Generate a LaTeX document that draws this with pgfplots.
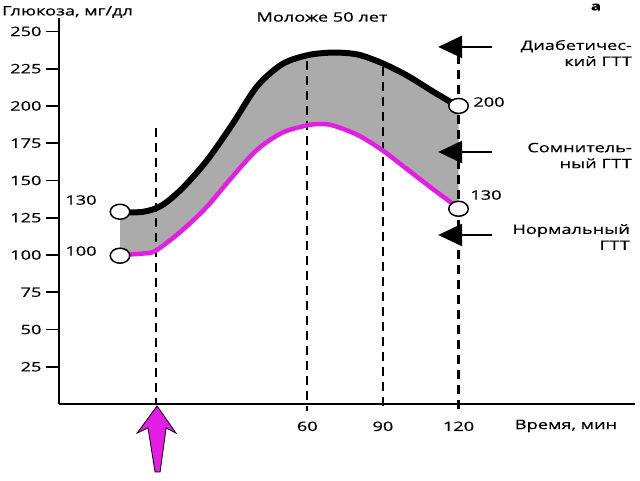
\documentclass[border=0pt]{standalone}
\usepackage{fontspec}
\setmainfont{Open Sans}[FakeStretch=1.4,FakeBold=0.6]
\usepackage{pgfplots}
\usepackage{pgfplotstable}
\pgfplotsset{compat=1.18}
\usepgfplotslibrary{fillbetween}
\usetikzlibrary{arrows.meta}
\definecolor{mag}{RGB}{225,30,225}
\pgfplotstableread{
t v
-14.3 128.5
-5 129
2 133
10 144
20 163
30 187
40 213
50 228
60 234
70 235.8
80 234.5
90 228.5
100 220
110 209.5
120 199.5
}\diab
\pgfplotstableread{
t v
-14.3 100
-5 101
0 103
10 116
20 132
30 152
40 170.5
50 182
60 187
65 187.8
70 187
80 180.5
90 170
100 157
110 144
120 131.5
}\norm
\begin{document}
\fontsize{13}{16}\selectfont
\begin{tikzpicture}[font=\fontsize{13}{16}\selectfont]
\begin{axis}[
  at={(59pt,76pt)}, anchor=south west, scale only axis,
  width=576pt, height=386pt,
  xmin=-38.5, xmax=190, ymin=0, ymax=259,
  axis x line*=bottom, axis y line*=left,
  axis line style={-, line width=1.6pt, black},
  clip=false,
  ytick={25,50,...,250}, xtick={60,90,120},
  tick align=outside, major tick length=13pt,
  y tick style={line width=1.8pt, black},
  x tick style={draw=none},
  /pgf/number format/assume math mode=true,
  tick label style={font=\fontsize{13}{16}\selectfont},
]
\addplot[draw=none, name path=blk, smooth] table[x=t,y=v] {\diab};
\addplot[draw=none, name path=nrm, smooth] table[x=t,y=v] {\norm};
\addplot[black!33, draw=none] fill between[of=blk and nrm];
\addplot[black, line width=2.2pt, dash pattern=on 9pt off 6pt] coordinates {(0,185) (0,-1)};
\addplot[black, line width=2.2pt, dash pattern=on 9pt off 6pt] coordinates {(60,230) (60,-5)};
\addplot[black, line width=2.2pt, dash pattern=on 9pt off 6pt] coordinates {(90,226) (90,-5)};
\addplot[black, line width=2.2pt, dash pattern=on 9pt off 6pt] coordinates {(120,244) (120,-5)};
\addplot[black, line width=6pt, smooth] table[x=t,y=v] {\diab};
\addplot[mag, line width=4.5pt, smooth] table[x=t,y=v] {\norm};
\addplot[only marks, mark=*, mark size=7.5pt, mark options={fill=white, draw=black, line width=1.5pt, xscale=1.3}] coordinates {(-14.3,129) (-14.3,99.5) (120,200) (120,131)};
\draw[line width=2.5pt, -{Triangle[length=24pt,width=22pt]}] (axis cs:133.3,239.6) -- (axis cs:111.9,239.6);
\draw[line width=2.5pt, -{Triangle[length=24pt,width=22pt]}] (axis cs:133.3,169.1) -- (axis cs:111.9,169.1);
\draw[line width=2.5pt, -{Triangle[length=24pt,width=22pt]}] (axis cs:133.3,113.4) -- (axis cs:111.9,113.4);
\filldraw[fill=mag, draw=black, line width=0.8pt] (axis cs:0.4,-1.3) -- (axis cs:7.9,-19.5) -- (axis cs:4,-16.1) -- (axis cs:1.6,-45.6) -- (axis cs:-0.4,-45.6) -- (axis cs:-3.2,-16.1) -- (axis cs:-7.5,-19.5) -- cycle;
\end{axis}
\begin{scope}[x=1pt,y=1pt]
\node[anchor=west, inner sep=0pt] at (2,468) {Глюкоза, мг/дл};
\node[inner sep=0pt] at (322,463) {Моложе 50 лет};
\node[inner sep=0pt, font=\fontsize{12}{14}\selectfont\bfseries] at (596,473) {а};
\node[anchor=east, align=right, inner sep=0pt] at (632,427) {Диабетичес-\\кий ГТТ};
\node[anchor=east, align=right, inner sep=0pt] at (632,324.5) {Сомнитель-\\ный ГТТ};
\node[anchor=east, align=right, inner sep=0pt] at (630,243) {Нормальный\\ГТТ};
\node[inner sep=0pt] at (566,54) {Время, мин};
\node[inner sep=0pt] at (81,280) {130};
\node[inner sep=0pt] at (81,229) {100};
\node[inner sep=0pt] at (489,378) {200};
\node[inner sep=0pt] at (486,285) {130};
\pgfresetboundingbox
\path[use as bounding box] (0,0) rectangle (640,480);
\end{scope}
\end{tikzpicture}
\end{document}
